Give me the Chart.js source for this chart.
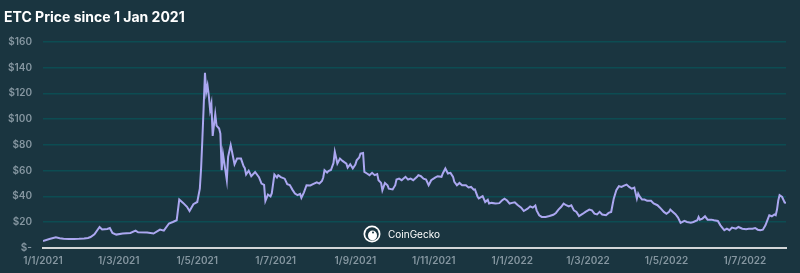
<!DOCTYPE html>
<html lang="en">
<head>
    <meta charset="UTF-8">
    <title>ETC Price since 1 Jan 2021</title>
    <script src="https://cdn.jsdelivr.net/npm/chart.js"></script>
    <style>
        html, body { margin: 0; padding: 0; background: #1a3540; }
        #wrap { width: 800px; height: 273px; position: relative; }
    </style>
</head>
<body>
    <div id="wrap">
        <canvas id="myChart"></canvas>
    </div>
<script>
    // days since 1 Jan 2021
    const days = [
        0, 5, 10, 13, 16, 20, 24, 28, 32, 35, 37, 40, 44, 46, 50, 52, 54, 57, 62, 68,
        72, 74, 81, 86, 91, 94, 98, 101, 104, 106, 109, 112, 114, 117, 120, 122, 123, 124, 125, 126,
        127, 128, 129, 130, 131, 132, 134, 135, 137, 138, 139, 140, 143, 144, 146, 149, 151, 154, 156, 157,
        158, 160, 162, 165, 168, 170, 172, 173, 175, 177, 178, 180, 182, 183, 185, 188, 190, 192, 194, 196,
        198, 200, 201, 203, 205, 208, 210, 213, 215, 217, 218, 219, 221, 222, 224, 226, 227, 229, 231, 233,
        236, 237, 239, 241, 243, 244, 246, 247, 249, 250, 252, 254, 256, 258, 260, 261, 263, 264, 266, 268,
        269, 272, 274, 275, 277, 279, 282, 284, 286, 288, 291, 292, 294, 296, 298, 300, 302, 305, 307, 310,
        311, 313, 315, 317, 319, 320, 322, 324, 326, 329, 331, 333, 335, 336, 338, 339, 342, 344, 346, 347,
        349, 352, 355, 357, 359, 361, 363, 365, 367, 369, 372, 374, 377, 379, 381, 383, 384, 386, 388, 391,
        394, 397, 399, 401, 403, 405, 407, 409, 411, 413, 415, 417, 420, 422, 425, 427, 429, 431, 433, 435,
        438, 440, 442, 443, 444, 446, 448, 450, 452, 454, 456, 458, 460, 462, 463, 464, 466, 468, 470, 473,
        475, 478, 480, 483, 485, 487, 488, 490, 492, 494, 496, 499, 501, 504, 506, 509, 510, 511, 513, 515,
        517, 520, 522, 525, 527, 529, 530, 532, 534, 536, 539, 541, 544, 547, 549, 552, 554, 556, 558, 560,
        562, 564, 565, 567, 569, 570, 571, 572, 573, 575, 577, 578
    ];
    const prices = [
        5.4, 7.0, 8.3, 7.5, 7.2, 7.0, 6.9, 7.1, 7.4, 7.8, 8.5, 10.6, 16.3, 14.3, 14.8, 15.5, 11.7, 10.4, 11.2, 11.7,
        13.5, 12.2, 12.0, 11.2, 14.3, 13.5, 19.0, 20.2, 21.5, 37.6, 35.0, 32.0, 28.7, 34.0, 35.7, 46.0, 62.0, 85.0, 110.0, 136.0,
        121.0, 126.0, 118.0, 107.0, 112.0, 87.0, 104.0, 95.0, 92.7, 88.8, 60.3, 73.0, 52.6, 70.7, 79.8, 65.0, 69.4, 69.4, 63.5, 62.0,
        57.0, 60.0, 55.7, 59.0, 55.0, 50.0, 49.0, 36.5, 41.5, 40.0, 42.5, 57.0, 54.7, 56.5, 55.0, 53.8, 49.5, 48.8, 45.3, 42.2,
        41.0, 42.0, 39.0, 43.2, 48.7, 48.5, 49.5, 51.0, 50.0, 52.0, 54.7, 60.3, 58.5, 59.6, 60.5, 66.0, 74.6, 65.5, 69.4, 67.6,
        65.5, 62.4, 65.0, 61.7, 64.8, 68.0, 70.2, 73.3, 73.8, 59.0, 57.8, 56.5, 58.3, 56.5, 57.3, 52.6, 50.5, 44.8, 50.5, 48.7,
        46.0, 45.4, 48.7, 53.1, 53.8, 52.6, 55.2, 53.1, 53.8, 52.6, 55.2, 56.5, 55.7, 53.8, 53.1, 48.7, 52.6, 54.6, 55.7, 55.2,
        57.8, 61.7, 57.8, 58.3, 55.2, 51.3, 48.7, 50.5, 48.7, 48.7, 47.0, 47.4, 45.3, 45.5, 40.0, 38.5, 40.2, 35.7, 37.5, 34.5,
        35.0, 34.5, 34.8, 36.8, 38.3, 36.8, 34.5, 35.0, 35.5, 33.5, 31.3, 28.7, 30.5, 32.3, 31.3, 33.0, 29.2, 25.4, 24.1, 24.1,
        24.8, 25.8, 27.2, 29.8, 31.8, 34.5, 33.2, 32.3, 33.2, 29.2, 28.0, 24.8, 26.6, 28.0, 29.8, 29.2, 26.6, 26.0, 28.0, 26.0,
        25.4, 27.2, 28.0, 33.2, 38.3, 44.8, 48.0, 47.4, 48.4, 49.2, 47.4, 46.0, 46.9, 38.3, 42.2, 40.2, 37.6, 37.6, 36.6, 36.6,
        34.5, 33.2, 31.3, 28.0, 26.6, 28.0, 29.8, 28.0, 26.2, 23.6, 19.4, 21.0, 20.2, 19.7, 20.2, 21.5, 24.1, 22.0, 22.8, 24.6,
        22.0, 22.0, 21.5, 21.0, 17.6, 15.0, 13.8, 15.0, 13.8, 15.8, 15.0, 16.3, 15.0, 14.5, 15.0, 15.0, 15.5, 14.2, 13.8, 14.2,
        17.6, 22.8, 25.4, 24.6, 26.0, 25.4, 29.8, 37.0, 41.0, 39.6, 35.2, 35.0
    ];
    // x axis tick positions (days since 1 Jan 2021) and their labels
    const tickDays = [0, 59, 120, 181, 243, 304, 365, 424, 485, 546];
    const tickLabels = ['1/1/2021', '1/3/2021', '1/5/2021', '1/7/2021', '1/9/2021',
                        '1/11/2021', '1/1/2022', '1/3/2022', '1/5/2022', '1/7/2022'];

    const bg = '#1a3540';
    const labelColor = '#8596a0';

    // background + CoinGecko mark
    const decor = {
        id: 'decor',
        beforeDraw(chart) {
            const c = chart.ctx;
            c.save();
            c.fillStyle = bg;
            c.fillRect(0, 0, chart.width, chart.height);
            c.restore();
        },
        afterDatasetsDraw(chart) {
            const c = chart.ctx;
            const cx = 372, cy = 234;
            c.save();
            c.beginPath();
            c.arc(cx, cy, 8.5, 0, Math.PI * 2);
            c.fillStyle = '#ffffff';
            c.fill();
            c.beginPath();
            c.arc(cx, cy, 6.8, 0, Math.PI * 2);
            c.fillStyle = bg;
            c.fill();
            c.beginPath();
            c.ellipse(cx + 0.5, cy + 1.5, 4.5, 5, 0, 0, Math.PI * 2);
            c.fillStyle = '#ffffff';
            c.fill();
            c.beginPath();
            c.arc(cx + 1, cy - 1.5, 1, 0, Math.PI * 2);
            c.fillStyle = bg;
            c.fill();
            c.font = '10px Inter';
            c.fillStyle = '#ffffff';
            c.textBaseline = 'middle';
            c.fillText('CoinGecko', 388, cy + 0.5);
            c.restore();
        }
    };

    const ctx = document.getElementById('myChart');

    new Chart(ctx, {
        type: 'line',
        data: {
            datasets: [{
                data: days.map((d, i) => ({ x: d, y: prices[i] })),
                borderColor: '#aba7f0',
                borderWidth: 2,
                pointRadius: 0,
                tension: 0
            }]
        },
        options: {
            responsive: true,
            maintainAspectRatio: false,
            animation: false,
            layout: { padding: { left: 4, right: 14, top: 0, bottom: 0 } },
            plugins: {
                legend: { display: false },
                tooltip: { enabled: false },
                title: {
                    display: true,
                    text: 'ETC Price since 1 Jan 2021',
                    align: 'start',
                    color: '#ffffff',
                    font: { family: 'Inter', size: 14, weight: 'bold' },
                    padding: { top: 9, bottom: 16 }
                }
            },
            scales: {
                x: {
                    type: 'linear',
                    min: 0,
                    max: days[days.length - 1],
                    afterBuildTicks: (scale) => {
                        scale.ticks = tickDays.map(v => ({ value: v }));
                    },
                    afterFit: (scale) => { scale.height = 25; },
                    grid: { display: false, drawTicks: false },
                    border: { display: true, color: '#d3d6d8', width: 2 },
                    ticks: {
                        autoSkip: false,
                        maxRotation: 0,
                        padding: 7,
                        color: labelColor,
                        font: { family: 'Inter', size: 10, weight: '600' },
                        callback: (v) => {
                            const i = tickDays.indexOf(v);
                            return i >= 0 ? tickLabels[i] : '';
                        }
                    }
                },
                y: {
                    min: 0,
                    max: 160,
                    afterFit: (scale) => { scale.width = 39; },
                    grid: {
                        color: (c) => c.tick.value === 0 ? 'rgba(0,0,0,0)' : '#0c4c52',
                        lineWidth: 1.5,
                        drawTicks: false
                    },
                    border: { display: false },
                    ticks: {
                        stepSize: 20,
                        padding: 11,
                        color: labelColor,
                        font: { family: 'Inter', size: 10, weight: '600' },
                        callback: (v) => v === 0 ? '$-' : '$' + v
                    }
                }
            }
        },
        plugins: [decor]
    });
</script>
</body>
</html>
